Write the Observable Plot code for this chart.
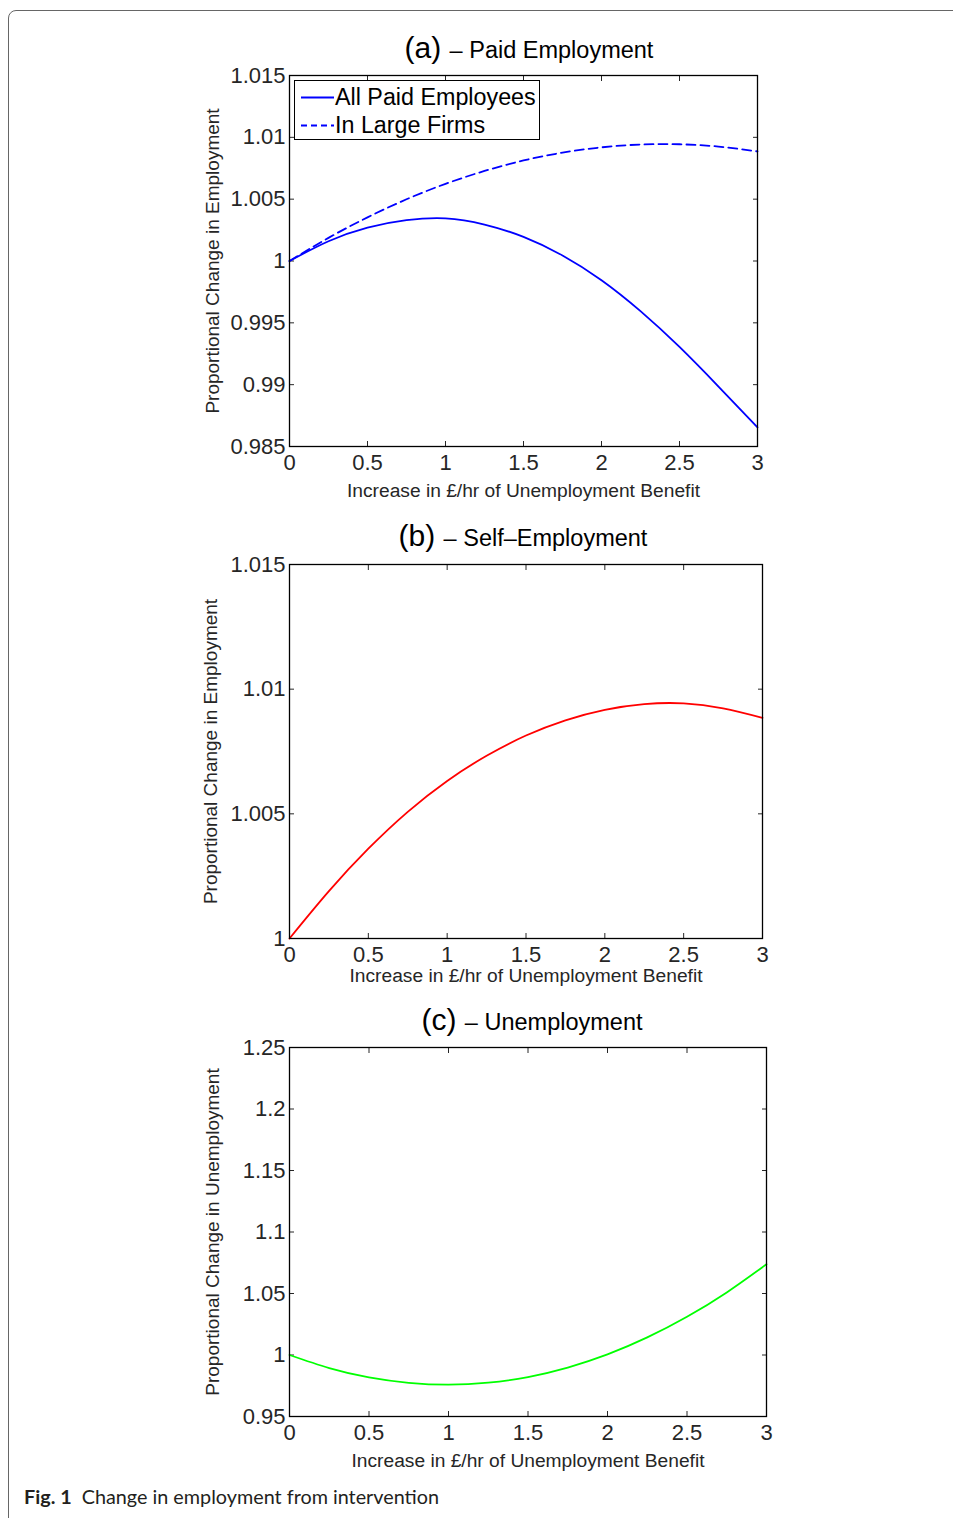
<!DOCTYPE html>
<html>
<head>
<meta charset="utf-8">
<script src="https://cdn.jsdelivr.net/npm/d3@7"></script>
<script src="https://cdn.jsdelivr.net/npm/@observablehq/plot@0.6"></script>
<style>
  html, body { margin: 0; padding: 0; background: #fff; }
  body { width: 953px; height: 1518px; overflow: hidden; position: relative; font-family: "Liberation Sans", Arial, sans-serif; }
  #outer { position: absolute; left: 8px; top: 10px; width: 1000px; height: 1600px; border: 1.5px solid #666; border-radius: 8px; box-sizing: border-box; }
  .panel { position: absolute; left: 0; }
  .title { position: absolute; width: 500px; text-align: center; line-height: 1; font-size: 30px; color: #000; white-space: nowrap; }
  .title .sub { font-size: 23.5px; }
  #legend { position: absolute; left: 294px; top: 80px; width: 246px; height: 60px; box-sizing: border-box; border: 1.3px solid #000; background: #fff; font-size: 23.3px; color: #000; }
  #legend .row { position: absolute; left: 0; height: 28px; line-height: 28px; white-space: nowrap; }
  #legend svg { position: absolute; left: 5px; top: 0; }
  #legend span { position: absolute; left: 40px; }
  #caption { position: absolute; left: 24px; top: 1484px; font-family: Lato, "Open Sans", sans-serif; font-size: 19.8px; color: #231f20; white-space: nowrap; }
  #caption b { font-weight: 700; }
</style>
</head>
<body>
<div id="outer"></div>
<div id="root"></div>
<script>
// ---- data ----
const benefit = [0, 0.25, 0.5, 0.75, 1, 1.25, 1.5, 1.75, 2, 2.25, 2.5, 2.75, 3];
const allPaidEmployees = [1.0, 1.0016, 1.0027, 1.0033, 1.00345, 1.00295, 1.00195, 1.00045, 0.99845, 0.99595, 0.99305, 0.98985, 0.98655];
const inLargeFirms = [1.0, 1.00187, 1.00353, 1.00499, 1.00624, 1.00728, 1.00813, 1.00876, 1.00919, 1.00942, 1.00944, 1.00925, 1.00886];
const selfEmployment = [1.0, 1.0019, 1.0036, 1.00508, 1.00632, 1.00733, 1.00814, 1.00875, 1.00917, 1.0094, 1.00943, 1.00923, 1.00885];
const unemployment = [1.0, 0.9894, 0.9818, 0.9774, 0.9759, 0.9775, 0.9821, 0.9898, 1.0005, 1.0143, 1.0311, 1.0509, 1.0738];

const xTicks = [0, 0.5, 1, 1.5, 2, 2.5, 3];
const yTicksA = [0.985, 0.99, 0.995, 1, 1.005, 1.01, 1.015];
const yTicksB = [1, 1.005, 1.01, 1.015];
const yTicksC = [0.95, 1, 1.05, 1.1, 1.15, 1.2, 1.25];

const xLabel = "Increase in £/hr of Unemployment Benefit";
const yLabelEmp = "Proportional Change in Employment";
const yLabelUnemp = "Proportional Change in Unemployment";
const legendLabels = ["All Paid Employees", "In Large Firms"];
const titles = [["(a)", "– Paid Employment"], ["(b)", "– Self–Employment"], ["(c)", "– Unemployment"]];
const caption = ["Fig. 1", "Change in employment from intervention"];

// ---- layout ----
const W = 953;
const FONT = "'Liberation Sans', Arial, Helvetica, sans-serif";
const root = document.getElementById("root");

function rows(ys) { return benefit.map((x, i) => ({x, y: ys[i]})); }

function panel({svgTop, height, left, right, top, bottom, yDomain, yTicks, lines, yLabel, xLabelDy, yLabelDx, title, titleCx, titleTop}) {
  const chart = Plot.plot({
    width: W, height,
    marginLeft: left, marginRight: W - right,
    marginTop: top - svgTop, marginBottom: svgTop + height - bottom,
    x: {domain: [0, 3], axis: null},
    y: {domain: yDomain, axis: null},
    style: {fontFamily: FONT, color: "#262626", background: "transparent", overflow: "visible"},
    marks: [
      Plot.axisX(xTicks, {anchor: "bottom", tickSize: -5, tickPadding: 13, fontSize: 22, tickFormat: d => String(d), label: null, stroke: "#262626"}),
      Plot.axisX(xTicks, {anchor: "top", tickSize: -5, fill: "none", label: null, stroke: "#262626"}),
      Plot.axisY(yTicks, {anchor: "left", tickSize: -5, tickPadding: 9, fontSize: 22, tickFormat: d => String(d), label: null, stroke: "#262626"}),
      Plot.axisY(yTicks, {anchor: "right", tickSize: -5, fill: "none", label: null, stroke: "#262626"}),
      ...lines.map(l => Plot.line(rows(l.ys), {x: "x", y: "y", stroke: l.color, strokeWidth: 1.8, strokeDasharray: l.dash, curve: "natural"})),
      Plot.frame({stroke: "#000", strokeWidth: 1.3}),
      Plot.text([xLabel], {frameAnchor: "bottom", dy: xLabelDy, lineAnchor: "middle", textAnchor: "middle", fontSize: 19.2, fill: "#262626"}),
      Plot.text([yLabel], {frameAnchor: "left", dx: -yLabelDx, rotate: -90, lineAnchor: "middle", textAnchor: "middle", fontSize: 19, fill: "#262626"})
    ]
  });
  chart.classList.add("panel");
  chart.style.top = svgTop + "px";
  root.appendChild(chart);

  const t = document.createElement("div");
  t.className = "title";
  t.style.left = (titleCx - 250) + "px";
  t.style.top = titleTop + "px";
  t.innerHTML = `<span>${title[0]}</span> <span class="sub">${title[1]}</span>`;
  root.appendChild(t);
}

panel({svgTop: 0, height: 510, left: 289, right: 757, top: 75, bottom: 446,
  yDomain: [0.985, 1.015], yTicks: yTicksA,
  lines: [{ys: allPaidEmployees, color: "#0000ff"}, {ys: inLargeFirms, color: "#0000ff", dash: "9,5"}],
  yLabel: yLabelEmp, xLabelDy: 44, yLabelDx: 77, title: titles[0], titleCx: 529, titleTop: 33});

panel({svgTop: 510, height: 490, left: 289, right: 762, top: 564, bottom: 938,
  yDomain: [1, 1.015], yTicks: yTicksB,
  lines: [{ys: selfEmployment, color: "#ff0000"}],
  yLabel: yLabelEmp, xLabelDy: 37, yLabelDx: 79, title: titles[1], titleCx: 523, titleTop: 521});

panel({svgTop: 1000, height: 480, left: 289, right: 766, top: 1047, bottom: 1416,
  yDomain: [0.95, 1.25], yTicks: yTicksC,
  lines: [{ys: unemployment, color: "#00ff00"}],
  yLabel: yLabelUnemp, xLabelDy: 44, yLabelDx: 77, title: titles[2], titleCx: 532, titleTop: 1005});

// legend for panel (a)
const lg = document.createElement("div");
lg.id = "legend";
lg.innerHTML = legendLabels.map((s, i) => `<div class="row" style="top:${2 + i * 28}px">
  <svg width="34" height="28"><line x1="1" x2="34" y1="14.5" y2="14.5" stroke="#0000ff" stroke-width="1.8" ${i ? 'stroke-dasharray="6,4"' : ''}/></svg>
  <span>${s}</span></div>`).join("");
root.appendChild(lg);

const cap = document.createElement("div");
cap.id = "caption";
cap.innerHTML = `<b>${caption[0]}</b>&nbsp; ${caption[1]}`;
root.appendChild(cap);
</script>
</body>
</html>
